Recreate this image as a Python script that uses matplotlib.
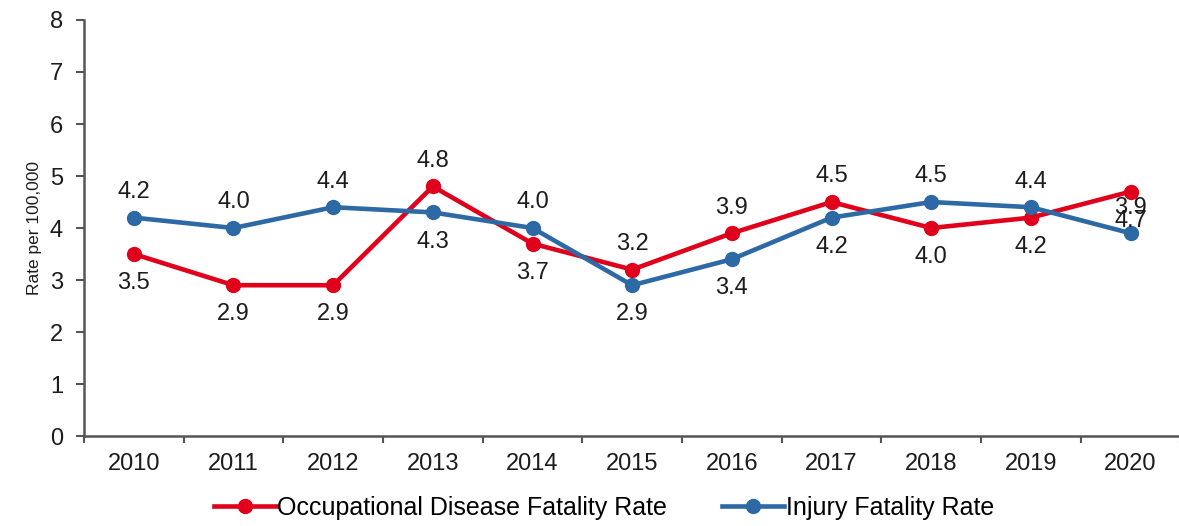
import matplotlib
matplotlib.use("Agg")
import matplotlib.pyplot as plt
from matplotlib.ticker import FixedLocator, NullFormatter

plt.rcParams['font.family'] = ['Liberation Sans', 'DejaVu Sans']

years = ['2010', '2011', '2012', '2013', '2014', '2015', '2016', '2017', '2018', '2019', '2020']
occupational = [3.5, 2.9, 2.9, 4.8, 3.7, 3.2, 3.9, 4.5, 4.0, 4.2, 4.7]
injury = [4.2, 4.0, 4.4, 4.3, 4.0, 2.9, 3.4, 4.2, 4.5, 4.4, 3.9]
# label placement relative to the point for the occupational series (injury is opposite)
occ_label_above = [False, False, False, True, False, True, True, True, False, False, False]

red = '#E0001B'
blue = '#2C69A5'
txt = '#1c1c1c'

fig = plt.figure(figsize=(11.79, 5.26), dpi=100)
ax = fig.add_axes([0.0712, 0.171, 0.93, 0.791])

x = list(range(len(years)))
ax.plot(x, occupational, color=red, lw=3.3, marker='o', ms=10, label='Occupational Disease Fatality Rate', zorder=3)
ax.plot(x, injury, color=blue, lw=3.3, marker='o', ms=10, label='Injury Fatality Rate', zorder=3)

for i in x:
    for vals, above in ((occupational, occ_label_above[i]), (injury, not occ_label_above[i])):
        off = 18.5 if above else -21
        ax.annotate(f'{vals[i]:.1f}', (i, vals[i]), xytext=(0, off), textcoords='offset points',
                    ha='center', va='center', fontsize=17, color=txt)

ax.set_xlim(-0.5, 10.5)
ax.set_ylim(0, 8)
ax.set_yticks(range(0, 9))
ax.set_xticks(x)
ax.set_xticklabels(years)
ax.xaxis.set_minor_locator(FixedLocator([i + 0.5 for i in range(-1, 11)]))
ax.xaxis.set_minor_formatter(NullFormatter())
ax.tick_params(axis='x', which='major', length=0, labelsize=17, pad=12, colors=txt)
ax.tick_params(axis='x', which='minor', length=5, width=1.5, color='#555555', direction='out')
ax.tick_params(axis='y', length=6, width=1.5, color='#555555', labelsize=17, pad=9, labelcolor=txt)
for s in ('top', 'right'):
    ax.spines[s].set_visible(False)
for s in ('left', 'bottom'):
    ax.spines[s].set_linewidth(1.8)
    ax.spines[s].set_color('#555555')

ax.set_ylabel('Rate per 100,000', fontsize=12.5, color=txt, labelpad=6)

leg = fig.legend(loc='center', bbox_to_anchor=(0.5123, 0.034), ncol=2, frameon=False,
                 fontsize=18, handlelength=2.48, handletextpad=0.05, columnspacing=2.2)

fig.savefig('out.png', dpi=100)
